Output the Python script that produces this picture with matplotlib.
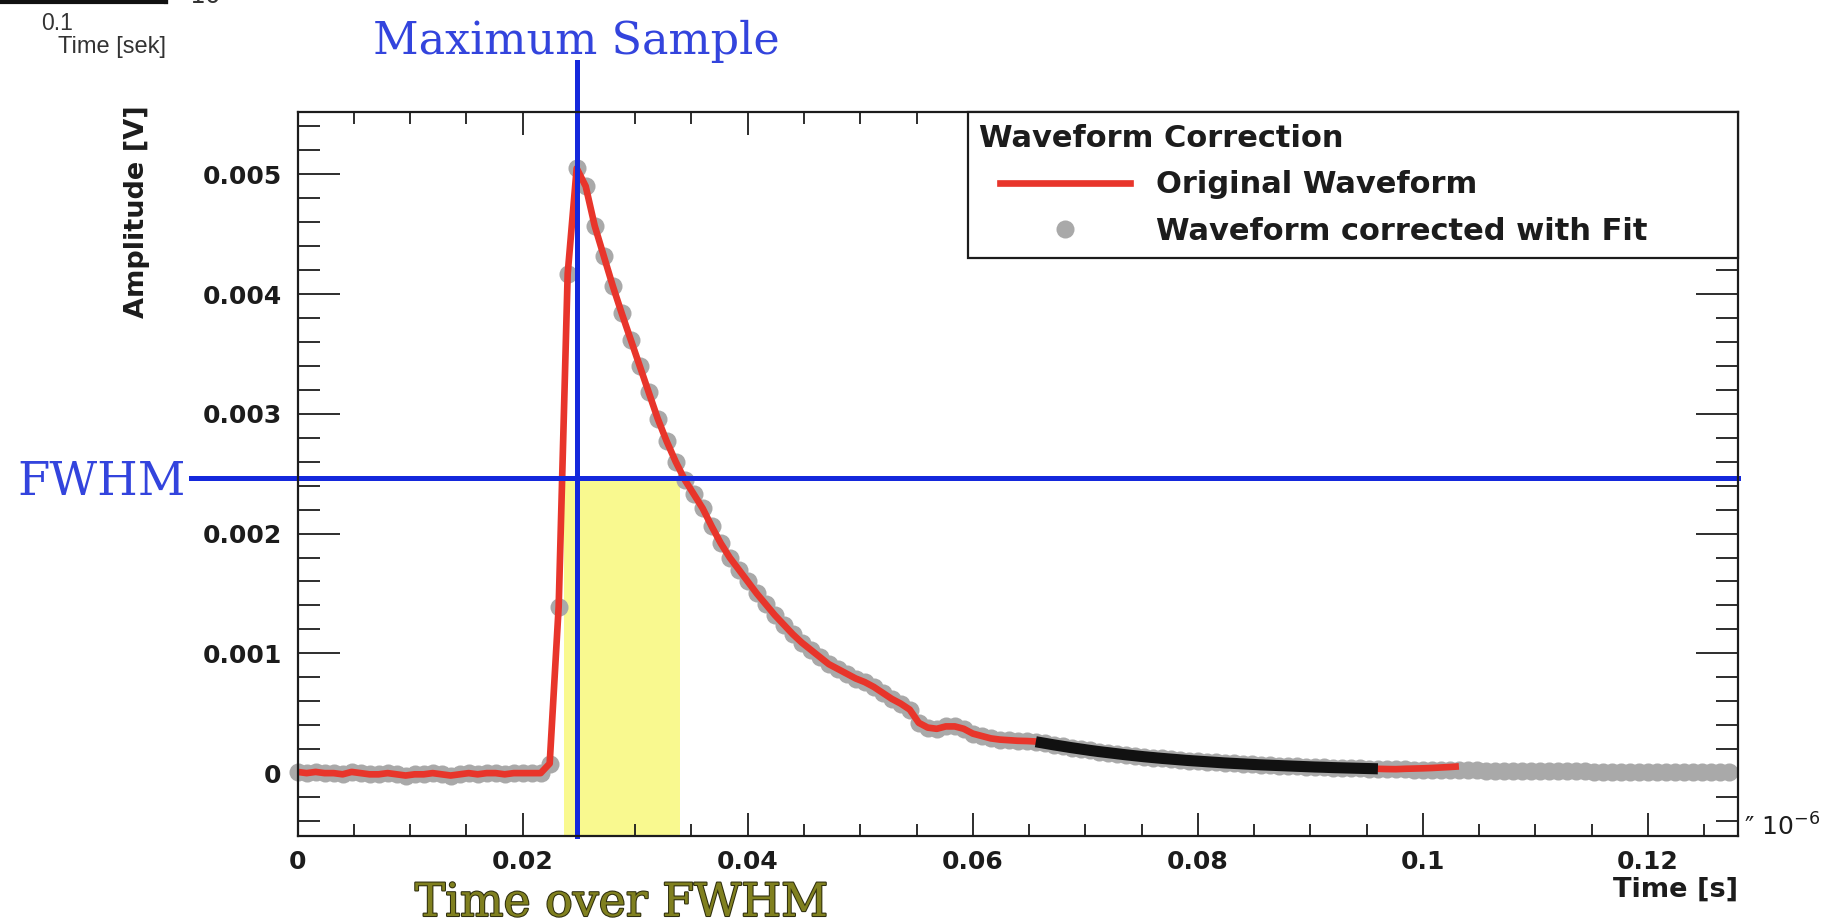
import numpy as np
import matplotlib
matplotlib.use("Agg")
import matplotlib.pyplot as plt
from matplotlib import transforms
from matplotlib.lines import Line2D
from matplotlib.legend_handler import HandlerLine2D
from matplotlib.ticker import MultipleLocator, FixedLocator, FixedFormatter
import matplotlib.patheffects as pe

plt.rcParams['font.family'] = ['DejaVu Sans']

# ---------------------------------------------------------------- data
SAMPLE_PERIOD = 0.0008          # time between samples (axis unit: 1e-6 s)

# recorded pulse, one value per sample [V]
original_waveform = [
    0.00001, 0.00000, 0.00001, 0.00000, 0.00000, -0.00001, 0.00001, 0.00000,
    -0.00001, -0.00001, 0.00000, -0.00001, -0.00002, -0.00001, -0.00001, 0.00000,
    -0.00001, -0.00002, -0.00001, 0.00000, -0.00001, 0.00000, 0.00000, -0.00001,
    0.00000, 0.00000, 0.00000, 0.00000, 0.00008, 0.00139, 0.00417, 0.00505,
    0.00490, 0.00457, 0.00432, 0.00407, 0.00384, 0.00362, 0.00340, 0.00318,
    0.00296, 0.00277, 0.00260, 0.00245, 0.00233, 0.00221, 0.00206, 0.00192,
    0.00180, 0.00170, 0.00160, 0.00150, 0.00141, 0.00132, 0.00124, 0.00116,
    0.00109, 0.00103, 0.00097, 0.00091, 0.00087, 0.00083, 0.00079, 0.00076,
    0.00072, 0.00067, 0.00062, 0.00058, 0.00053, 0.00042, 0.00038, 0.00037,
    0.00039, 0.00039, 0.00037, 0.00033, 0.00031, 0.00029, 0.00028, 0.000275,
    0.00027, 0.000268, 0.000264, 0.000250, 0.000235, 0.000226, 0.000211, 0.000203,
    0.000189, 0.000181, 0.000170, 0.000163, 0.000152, 0.000146, 0.000136, 0.000131,
    0.000122, 0.000118, 0.000110, 0.000106, 0.000099, 0.000096, 0.000089, 0.000086,
    0.000080, 0.000078, 0.000072, 0.000070, 0.000065, 0.000064, 0.000059, 0.000058,
    0.000053, 0.000052, 0.000048, 0.000047, 0.000043, 0.000043, 0.000039, 0.000039,
    0.000036, 0.000034, 0.000033, 0.000036, 0.000038, 0.000040, 0.000043, 0.000047,
    0.000051, 0.000056,
]

# exponential tail fit, evaluated from sample FIT_FIRST_SAMPLE to the end of the record
FIT_FIRST_SAMPLE = 82
fitted_tail = [
    0.000262, 0.000249, 0.000236, 0.000224, 0.000212, 0.000201, 0.000190, 0.000180,
    0.000171, 0.000162, 0.000153, 0.000145, 0.000137, 0.000130, 0.000123, 0.000117,
    0.000111, 0.000105, 0.000100, 0.000095, 0.000090, 0.000085, 0.000081, 0.000077,
    0.000073, 0.000069, 0.000066, 0.000063, 0.000060, 0.000057, 0.000054, 0.000051,
    0.000049, 0.000046, 0.000044, 0.000042, 0.000040, 0.000038, 0.000036, 0.000034,
    0.000033, 0.000031, 0.000030, 0.000028, 0.000027, 0.000026, 0.000025, 0.000024,
    0.000023, 0.000022, 0.000021, 0.000020, 0.000019, 0.000018, 0.000018, 0.000017,
    0.000016, 0.000016, 0.000015, 0.000015, 0.000014, 0.000014, 0.000013, 0.000013,
    0.000012, 0.000012, 0.000012, 0.000011, 0.000011, 0.000011, 0.000010, 0.000010,
    0.000010, 0.000010, 0.000009, 0.000009, 0.000009, 0.000009,
]
FIT_WINDOW = (0.0650, 0.0962)   # time range used for the fit

FWHM_LEVEL = 0.00246            # half-maximum threshold [V]
FWHM_START = 0.02363            # threshold crossings of the pulse
FWHM_END = 0.03396

x_ticks = [0.0, 0.02, 0.04, 0.06, 0.08, 0.10, 0.12]
x_tick_labels = ['0', '0.02', '0.04', '0.06', '0.08', '0.1', '0.12']
y_ticks = [0.0, 0.001, 0.002, 0.003, 0.004, 0.005]
y_tick_labels = ['0', '0.001', '0.002', '0.003', '0.004', '0.005']

# ---------------------------------------------------------------- derived series
original = np.array(original_waveform)
corrected = np.concatenate([original[:FIT_FIRST_SAMPLE], np.array(fitted_tail)])
t_orig = np.arange(len(original)) * SAMPLE_PERIOD
t_corr = np.arange(len(corrected)) * SAMPLE_PERIOD
in_fit = (t_corr >= FIT_WINDOW[0]) & (t_corr <= FIT_WINDOW[1])
t_peak = t_orig[np.argmax(original)]

# ---------------------------------------------------------------- style
RED = '#e8352b'
GRAY = '#a9a9a9'
BLUE = '#1428dc'
BLUE_TXT = '#3344dd'
YELLOW = '#f9f98f'
INK = '#1c1c1c'

fig = plt.figure(figsize=(18.23, 9.23), dpi=100)
ax = fig.add_axes([0.16325, 0.09426, 0.79012, 0.78440])
ax.set_xlim(0, 0.128)
ax.set_ylim(-0.000525, 0.00552)

# time over threshold band
ax.fill_between([FWHM_START, FWHM_END], -0.000525, FWHM_LEVEL,
                color=YELLOW, lw=0, zorder=0.5)

# corrected waveform (dots), original waveform (line) and fitted range
ax.plot(t_corr, corrected, ls='none', marker='o', ms=13, color=GRAY,
        mec='none', zorder=2, clip_on=False)
ax.plot(t_orig, original, color=RED, lw=4.8, zorder=3,
        solid_joinstyle='round', solid_capstyle='butt')
ax.plot(t_corr[in_fit], corrected[in_fit], color='#111111', lw=8, zorder=4,
        solid_capstyle='butt')

# marker lines
ax.axvline(t_peak, ymin=0, ymax=1.069, color=BLUE, lw=3.6, zorder=5, clip_on=False)
ax.axhline(FWHM_LEVEL, xmin=-0.074, xmax=1.0, color=BLUE, lw=3.6, zorder=5,
           clip_on=False)

blend_ax_data = transforms.blended_transform_factory(ax.transAxes, ax.transData)
blend_data_ax = transforms.blended_transform_factory(ax.transData, ax.transAxes)

ax.annotate('FWHM', xy=(0, FWHM_LEVEL), xycoords=blend_ax_data,
            xytext=(-80.5, -12.2), textcoords='offset points',
            ha='right', va='baseline', fontsize=33.5, family='DejaVu Serif',
            color=BLUE_TXT)
ax.annotate('Maximum Sample', xy=(t_peak, 1.0), xycoords=blend_data_ax,
            xytext=(0, 41.8), textcoords='offset points',
            ha='center', va='baseline', fontsize=32, family='DejaVu Serif',
            color=BLUE_TXT, annotation_clip=False)
tot = ax.annotate('Time over FWHM', xy=((FWHM_START + FWHM_END) / 2, 0),
                  xycoords=blend_data_ax, xytext=(0, -57.6),
                  textcoords='offset points', ha='center', va='baseline',
                  fontsize=33, family='DejaVu Serif', color='#80801f',
                  annotation_clip=False)
tot.set_path_effects([pe.Stroke(linewidth=1.5, foreground='#2e2e0e'), pe.Normal()])

# axes, ticks
for s in ax.spines.values():
    s.set_linewidth(1.6)
    s.set_color(INK)
    s.set_zorder(6)

ax.xaxis.set_major_locator(FixedLocator(x_ticks))
ax.xaxis.set_major_formatter(FixedFormatter(x_tick_labels))
ax.xaxis.set_minor_locator(MultipleLocator(0.005))
ax.yaxis.set_major_locator(FixedLocator(y_ticks))
ax.yaxis.set_major_formatter(FixedFormatter(y_tick_labels))
ax.yaxis.set_minor_locator(MultipleLocator(0.0002))

ax.tick_params(which='both', direction='in', top=True, right=True,
               color=INK, width=1.3, labelcolor=INK, labelsize=18)
ax.tick_params(axis='x', which='major', length=16.5, pad=10)
ax.tick_params(axis='x', which='minor', length=8.5)
ax.tick_params(axis='y', which='major', length=30, pad=11.5)
ax.tick_params(axis='y', which='minor', length=16)
for lab in ax.get_xticklabels() + ax.get_yticklabels():
    lab.set_fontweight('bold')

ax.set_xlabel('Time [s]', fontsize=19.5, fontweight='bold', color=INK)
ax.xaxis.set_label_coords(1.0, -0.0566)
ax.xaxis.label.set(ha='right', va='top')
ax.set_ylabel('Amplitude [V]', fontsize=19.5, fontweight='bold', color=INK)
ax.yaxis.set_label_coords(-0.1115, 1.0097)
ax.yaxis.label.set(ha='right', va='center', rotation_mode='anchor')

ax.text(1.004, 0, '\u2033 10$^{-6}$', transform=ax.transAxes, ha='left',
        va='baseline', fontsize=18, color=INK)

# legend
handles = [Line2D([], [], color=RED, lw=4.8),
           Line2D([], [], ls='none', marker='o', ms=13, color=GRAY, mec='none')]
labels = ['Original Waveform', 'Waveform corrected with Fit']
leg = ax.legend(handles, labels, title='Waveform Correction', loc='upper left',
                bbox_to_anchor=(0.4653, 0.0, 0.5347, 1.0), mode='expand',
                borderaxespad=0, fancybox=False, framealpha=1, edgecolor=INK,
                prop={'weight': 'bold', 'size': 22},
                title_fontproperties={'weight': 'bold', 'size': 22},
                alignment='left', handlelength=4.94, handletextpad=0.85,
                borderpad=0.38, labelspacing=0.58,
                handler_map={Line2D: HandlerLine2D(xpad=0.68)})
leg.get_frame().set_linewidth(1.6)
leg.set_zorder(7)
for txt in leg.get_texts():
    txt.set_color(INK)
leg.get_title().set_color(INK)

# neighbouring panel above (only its lower edge lies inside this figure)
top = fig.add_axes([-0.05, 1 - 2 / 923, 0.14106, 0.1])
top.set_xlim(0.0278, 0.15317)
top.set_ylim(0, 1)
top.xaxis.set_major_locator(FixedLocator([0.1]))
top.xaxis.set_major_formatter(FixedFormatter(['0.1']))
top.xaxis.set_minor_locator(MultipleLocator(0.02))
top.set_yticks([])
for s in top.spines.values():
    s.set_linewidth(3)
    s.set_color('#111111')
top.tick_params(which='both', direction='in', length=12, width=1.5,
                labelsize=16.5, labelcolor='#333333', pad=7)
for lab in top.get_xticklabels():
    lab.set_family('Liberation Sans')
top.set_xlabel('Time [sek]', fontsize=17, color='#333333', loc='right',
               labelpad=1, family='Liberation Sans')
fig.text(205 / 1823, 1 - 3 / 923, '10', ha='center', va='baseline',
         fontsize=18, color='#333333')

fig.savefig('out.png', dpi=100)
